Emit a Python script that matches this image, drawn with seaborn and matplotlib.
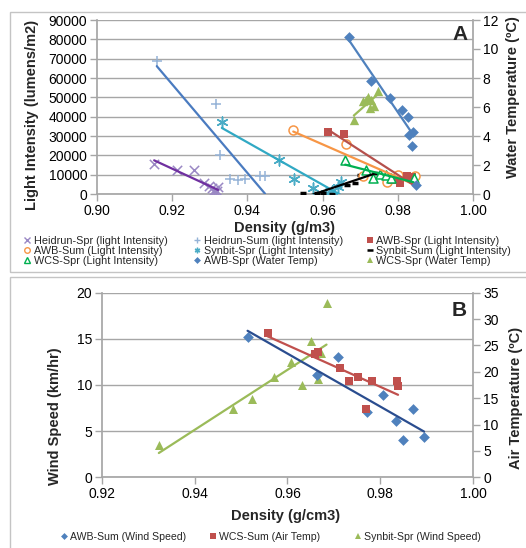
import matplotlib
matplotlib.use("Agg")
import numpy as np
import matplotlib.pyplot as plt
import seaborn as sns
from matplotlib.lines import Line2D
from matplotlib.patches import Rectangle
from matplotlib.ticker import FormatStrFormatter

sns.set_theme(style="white")
plt.rcParams['font.family'] = ['Liberation Sans', 'DejaVu Sans']

# ---------------- Panel A data ----------------
heidrun_spr_x = [0.9152, 0.9213, 0.9258, 0.9285, 0.9298, 0.9305, 0.9312, 0.9318, 0.9322, 0.9310]
heidrun_spr_y = [15500, 12600, 12600, 5500, 4300, 3000, 2000, 1500, 3600, 800]

heidrun_sum_x = [0.9159, 0.9316, 0.9327, 0.9354, 0.9376, 0.9394, 0.9434, 0.9447]
heidrun_sum_y = [69000, 46600, 20200, 7600, 7300, 7800, 9400, 9400]

awb_spr_light_x = [0.9615, 0.9658, 0.9785, 0.9805, 0.9825, 0.9838]
awb_spr_light_y = [32000, 31200, 7000, 5500, 9300, 9000]

awb_sum_light_x = [0.9522, 0.9663, 0.9708, 0.9772, 0.9800, 0.9845]
awb_sum_light_y = [33200, 25800, 9300, 6100, 9800, 9300]

synbit_spr_light_x = [0.9332, 0.9485, 0.9525, 0.9575, 0.9610, 0.9625, 0.9640, 0.9650]
synbit_spr_light_y = [37500, 17500, 8000, 3000, 500, 1500, 3500, 6000]

synbit_sum_light_x = [0.9547, 0.9585, 0.9600, 0.9625, 0.9665, 0.9685, 0.9700, 0.9712, 0.9740]
synbit_sum_light_y = [700, 500, 300, 0, 4700, 5500, 9800, 10500, 11000]

wcs_spr_light_x = [0.9660, 0.9715, 0.9734, 0.9752, 0.9768, 0.9781, 0.9842]
wcs_spr_light_y = [17650, 12300, 8150, 10400, 9870, 8150, 8150]

awb_spr_temp_x = [0.9671, 0.9728, 0.9779, 0.9812, 0.9828, 0.9831, 0.9841, 0.9837, 0.9848]
awb_spr_temp_y = [10.8, 7.8, 6.6, 5.8, 5.3, 4.1, 4.25, 3.3, 0.6]
awb_spr_temp_fit_n = 8  # trendline drawn through the first points only

wcs_spr_temp_x = [0.9683, 0.9708, 0.9716, 0.9722, 0.9726, 0.9730, 0.9736, 0.9748]
wcs_spr_temp_y = [5.1, 6.4, 6.5, 6.7, 5.9, 6.5, 6.1, 7.1]

# ---------------- Panel B data ----------------
awb_sum_wind_x = [0.9514, 0.9663, 0.9709, 0.9772, 0.9806, 0.9833, 0.9849, 0.9871, 0.9894]
awb_sum_wind_y = [15.2, 11.1, 13.0, 7.1, 8.95, 6.1, 4.0, 7.35, 4.4]

wcs_sum_air_x = [0.9557, 0.9660, 0.9665, 0.9712, 0.9732, 0.9752, 0.9781, 0.9770, 0.9835, 0.9838]
wcs_sum_air_y = [27.3, 23.3, 23.8, 20.8, 18.2, 19.0, 18.2, 12.9, 18.2, 17.3]

synbit_spr_wind_x = [0.9323, 0.9482, 0.9524, 0.9571, 0.9608, 0.9631, 0.9650, 0.9666, 0.9672, 0.9684]
synbit_spr_wind_y = [3.45, 7.4, 8.45, 10.85, 12.45, 9.95, 14.75, 10.65, 13.45, 18.9]

# ---------------- figure ----------------
W, H = 526, 548
fig = plt.figure(figsize=(W / 100, H / 100), dpi=100)
fig.patch.set_facecolor('white')


def rect(l, t, r, b):
    return [l / W, 1 - b / H, (r - l) / W, (b - t) / H]


GRID = '#A6A6A6'
AXC = '#A6A6A6'

# panel frames
fig.patches.append(Rectangle((10 / W, 1 - 272 / H), 600 / W, (272 - 11.5) / H,
                             transform=fig.transFigure, fill=False, edgecolor='#C4C4C4', lw=1))
fig.patches.append(Rectangle((10 / W, 1 - 600 / H), 600 / W, (600 - 277) / H,
                             transform=fig.transFigure, fill=False, edgecolor='#C4C4C4', lw=1))


def style_axes(ax, ax2):
    ax.set_facecolor('none')
    ax2.set_facecolor('none')
    ax.yaxis.grid(True, color=GRID, lw=1)
    ax.xaxis.grid(False)
    ax2.grid(False)
    ax.set_axisbelow(True)
    for s in ['top', 'right']:
        ax.spines[s].set_visible(False)
    for s in ['top', 'left', 'bottom']:
        ax2.spines[s].set_visible(False)
    ax.spines['left'].set_color(AXC)
    ax.spines['bottom'].set_color(AXC)
    ax2.spines['right'].set_color(AXC)
    ax.tick_params(axis='both', which='both', direction='out', length=5, width=1,
                   color=AXC, labelsize=10, labelcolor='black', bottom=True, left=True, pad=2)
    ax2.tick_params(axis='y', direction='out', length=5, width=1, color=AXC,
                    labelsize=10, labelcolor='black', right=True, pad=2)


def scat(ax, x, y, marker, color, s, face=None, lw=1.0):
    sns.scatterplot(x=x, y=y, ax=ax, marker=marker, s=s,
                    color=(face if face is not None else color), edgecolor=color,
                    linewidth=lw, zorder=3, legend=False)


def trend(ax, x, y, color, lw=1.6):
    sns.regplot(x=x, y=y, ax=ax, scatter=False, ci=None, truncate=True,
                line_kws=dict(color=color, lw=lw, zorder=4))


# ============ Panel A ============
axA = fig.add_axes(rect(97, 20, 473, 194))
axA2 = axA.twinx()
axA2.set_position(axA.get_position())

C_PURPLE_M, C_PURPLE_L = '#9A88C4', '#7030A0'
C_LBLUE_M, C_BLUE_L = '#95B3D7', '#4A7BC0'
C_RED = '#C0504D'
C_ORANGE = '#F79646'
C_TEAL = '#4BACC6'
C_GREEN = '#00B050'
C_BLUE = '#4F81BD'
C_OLIVE = '#9BBB59'

asterisk = (6, 2, 0)

scat(axA, heidrun_spr_x, heidrun_spr_y, 'x', C_PURPLE_M, 45, lw=1.1)
trend(axA, heidrun_spr_x, heidrun_spr_y, C_PURPLE_L)
scat(axA, heidrun_sum_x, heidrun_sum_y, '+', C_LBLUE_M, 55, lw=1.1)
trend(axA, heidrun_sum_x, heidrun_sum_y, C_BLUE_L)
scat(axA, synbit_spr_light_x, synbit_spr_light_y, asterisk, C_TEAL, 60, lw=1.1)
trend(axA, synbit_spr_light_x, synbit_spr_light_y, '#31A9C4')
scat(axA, synbit_sum_light_x, synbit_sum_light_y, '_', 'black', 25, lw=2.5)
trend(axA, synbit_sum_light_x, synbit_sum_light_y, 'black')
scat(axA, awb_sum_light_x, awb_sum_light_y, 'o', C_ORANGE, 42, face='white', lw=1.1)
trend(axA, awb_sum_light_x, awb_sum_light_y, C_ORANGE)
scat(axA, awb_spr_light_x, awb_spr_light_y, 's', C_RED, 40, lw=0)
trend(axA, awb_spr_light_x, awb_spr_light_y, '#B5504C')
scat(axA, wcs_spr_light_x, wcs_spr_light_y, '^', C_GREEN, 42, face='white', lw=1.1)
trend(axA, wcs_spr_light_x, wcs_spr_light_y, C_GREEN)

scat(axA2, awb_spr_temp_x, awb_spr_temp_y, 'D', C_BLUE, 30, lw=0)
trend(axA2, awb_spr_temp_x[:awb_spr_temp_fit_n], awb_spr_temp_y[:awb_spr_temp_fit_n], C_BLUE)
scat(axA2, wcs_spr_temp_x, wcs_spr_temp_y, '^', C_OLIVE, 45, lw=0)
trend(axA2, wcs_spr_temp_x, wcs_spr_temp_y, C_OLIVE)

axA.set_xlim(0.90, 1.00)
axA.set_xticks(np.arange(0.90, 1.0001, 0.02))
axA.xaxis.set_major_formatter(FormatStrFormatter('%.2f'))
axA.set_ylim(0, 90000)
axA.set_yticks(np.arange(0, 90001, 10000))
axA.yaxis.set_major_formatter(FormatStrFormatter('%d'))
axA2.set_ylim(0, 12)
axA2.set_yticks(np.arange(0, 12.01, 2))
axA2.yaxis.set_major_formatter(FormatStrFormatter('%d'))
style_axes(axA, axA2)

axA.set_xlabel('Density (g/m3)', fontsize=10.5, fontweight='bold')
axA.xaxis.set_label_coords(0.5, (194 - 221) / 174)
axA.set_ylabel('Light Intensity (lumens/m2)', fontsize=10.5, fontweight='bold')
axA.yaxis.set_label_coords((39 - 97) / 376, 0.454)
axA2.set_ylabel('Water Temperature (ºC)', fontsize=10.5, fontweight='bold', rotation=90)
axA2.yaxis.set_label_coords((506 - 97) / 376, 0.555)

fig.text(460 / W, 1 - 34 / H, 'A', fontsize=15, fontweight='bold', ha='center', va='center')


def h(marker, color, face=None, mew=1.0, ms=4):
    return Line2D([], [], linestyle='none', marker=marker, color=color,
                  markerfacecolor=(face if face is not None else color),
                  markeredgecolor=color, markeredgewidth=mew, markersize=ms)


def column_legend(items, marker_x, top_y, fs):
    em = fs * 100 / 72
    leg = fig.legend([i[0] for i in items], [i[1] for i in items],
                     ncol=1, loc='upper left',
                     bbox_to_anchor=((marker_x - 0.3 * em) / W, 1 - top_y / H),
                     frameon=False, fontsize=fs, handlelength=0.6, handletextpad=0.3,
                     labelspacing=0.0, borderaxespad=0, borderpad=0)
    return leg


FS_A = 7.8
legA_cols = [
    ([(h('x', C_PURPLE_M), 'Heidrun-Spr (light Intensity)'),
      (h('o', C_ORANGE, face='white'), 'AWB-Sum (Light Intensity)'),
      (h('^', C_GREEN, face='white'), 'WCS-Spr (Light Intensity)')], 27),
    ([(h('+', C_LBLUE_M), 'Heidrun-Sum (light Intensity)'),
      (h(asterisk, C_TEAL), 'Synbit-Spr (Light Intensity)'),
      (h('D', C_BLUE, mew=0, ms=3.5), 'AWB-Spr (Water Temp)')], 197),
    ([(h('s', C_RED, mew=0), 'AWB-Spr (Light Intensity)'),
      (h('_', 'black', mew=1.8), 'Synbit-Sum (Light Intensity)'),
      (h('^', C_OLIVE, mew=0), 'WCS-Spr (Water Temp)')], 370),
]
for items, mx in legA_cols:
    column_legend(items, mx, 235.5, FS_A)

# ============ Panel B ============
axB = fig.add_axes(rect(101.7, 292.7, 473.3, 477.3))
axB2 = axB.twinx()
axB2.set_position(axB.get_position())

scat(axB, synbit_spr_wind_x, synbit_spr_wind_y, '^', C_OLIVE, 42, lw=0)
trend(axB, synbit_spr_wind_x, synbit_spr_wind_y, C_OLIVE)
scat(axB, awb_sum_wind_x, awb_sum_wind_y, 'D', C_BLUE, 30, lw=0)
trend(axB, awb_sum_wind_x, awb_sum_wind_y, '#2A4D8F')
scat(axB2, wcs_sum_air_x, wcs_sum_air_y, 's', C_RED, 40, lw=0)
trend(axB2, wcs_sum_air_x, wcs_sum_air_y, C_RED)

axB.set_xlim(0.92, 1.00)
axB.set_xticks(np.arange(0.92, 1.0001, 0.02))
axB.xaxis.set_major_formatter(FormatStrFormatter('%.2f'))
axB.set_ylim(0, 20)
axB.set_yticks(np.arange(0, 20.01, 5))
axB.yaxis.set_major_formatter(FormatStrFormatter('%d'))
axB2.set_ylim(0, 35)
axB2.set_yticks(np.arange(0, 35.01, 5))
axB2.yaxis.set_major_formatter(FormatStrFormatter('%d'))
style_axes(axB, axB2)

axB.set_xlabel('Density (g/cm3)', fontsize=10.5, fontweight='bold')
axB.xaxis.set_label_coords(0.496, (477.3 - 509) / 184.6)
axB.set_ylabel('Wind Speed (km/hr)', fontsize=10.5, fontweight='bold')
axB.yaxis.set_label_coords((62 - 101.7) / 371.6, 0.33)
axB2.set_ylabel('Air Temperature (ºC)', fontsize=10.5, fontweight='bold', rotation=90)
axB2.yaxis.set_label_coords((509 - 101.7) / 371.6, 0.43)

fig.text(459 / W, 1 - 310 / H, 'B', fontsize=15, fontweight='bold', ha='center', va='center')

FS_B = 7.6
legB_items = [
    ((h('D', C_BLUE, mew=0, ms=3.5), 'AWB-Sum (Wind Speed)'), 64),
    ((h('s', C_RED, mew=0), 'WCS-Sum (Air Temp)'), 213),
    ((h('^', C_OLIVE, mew=0), 'Synbit-Spr (Wind Speed)'), 358),
]
for item, mx in legB_items:
    em = FS_B * 100 / 72
    fig.legend([item[0]], [item[1]], loc='center left',
               bbox_to_anchor=((mx - 0.3 * em) / W, 1 - 537 / H),
               frameon=False, fontsize=FS_B, handlelength=0.6, handletextpad=0.3,
               borderaxespad=0, borderpad=0)

fig.savefig('out.png', dpi=100, facecolor='white')
